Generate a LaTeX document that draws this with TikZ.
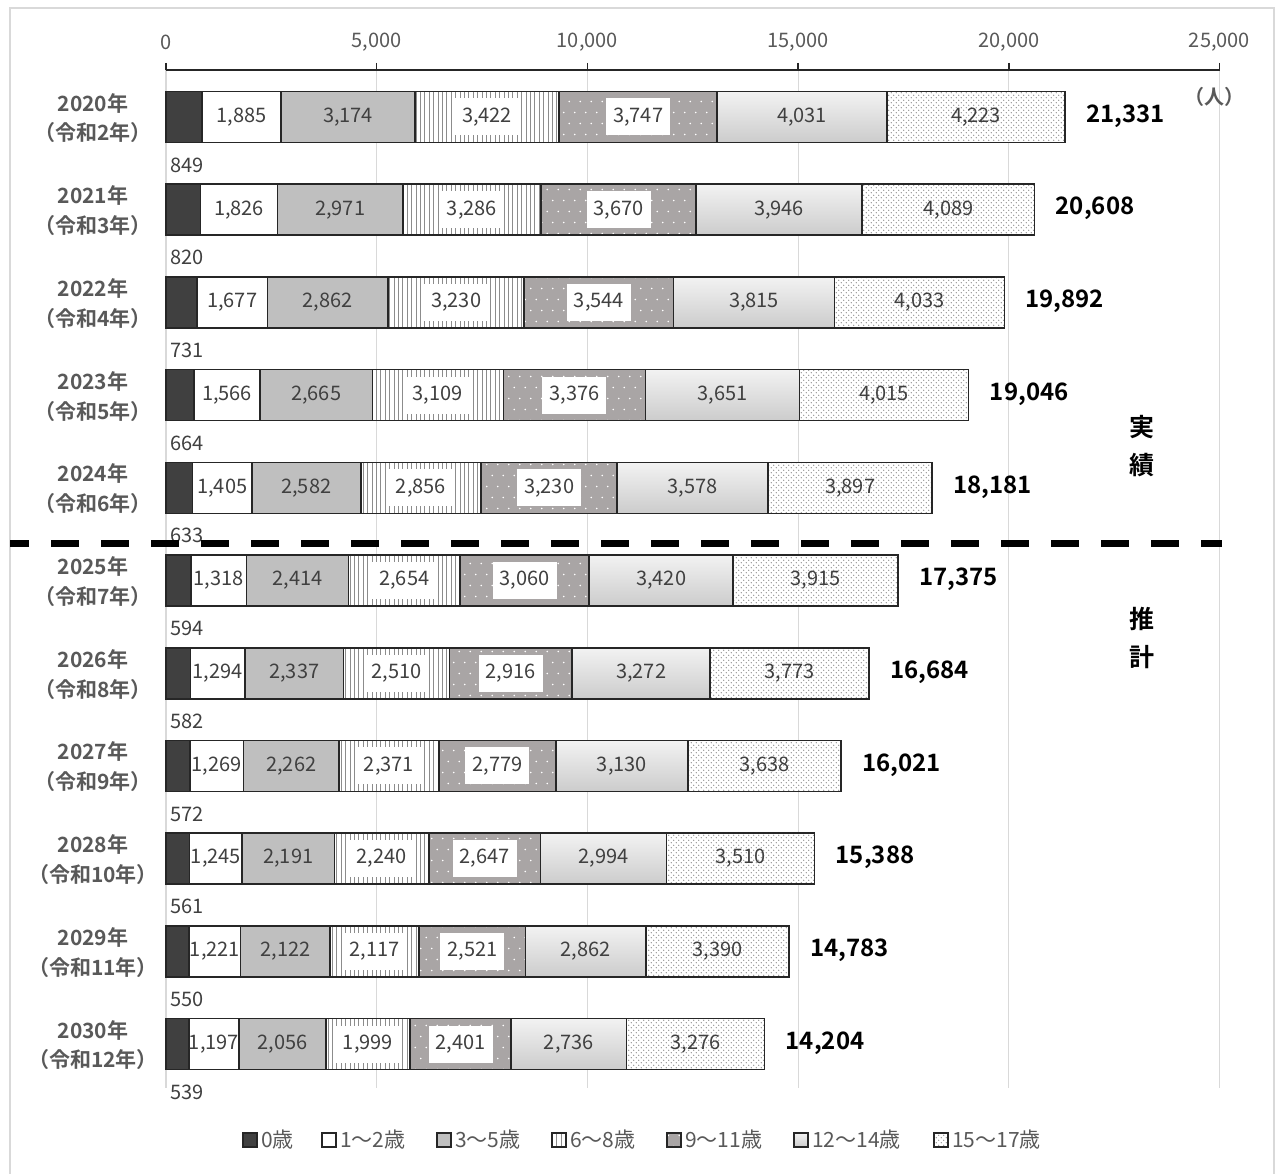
\documentclass[tikz,border=0pt]{standalone}
\usepackage{fontspec}
\setmainfont{Noto Sans CJK JP}[BoldFont={Noto Sans CJK JP Bold}]
\usetikzlibrary{patterns.meta}
\definecolor{czero}{HTML}{404040}
\definecolor{cthree}{HTML}{BFBFBF}
\definecolor{cnine}{HTML}{A9A5A5}
\definecolor{ctext}{HTML}{404040}
\definecolor{caxis}{HTML}{595959}
\definecolor{cgrid}{HTML}{D9D9D9}
\definecolor{cline}{HTML}{262626}
\pgfkeys{/pgf/number format/.cd,fixed,precision=0,1000 sep={,},assume math mode=true}

\tikzdeclarepattern{
  name=vlinespat,
  bottom left={(-0.1pt,-0.1pt)},
  top right={(4.5pt,10.1pt)},
  tile size={(4.4pt,10pt)},
  code={\tikzset{x=1pt,y=1pt}\draw[line width=0.6pt] (2.2,-0.2) -- (2.2,10.2);}
}
\tikzdeclarepattern{
  name=sparsedots,
  bottom left={(-0.1pt,-0.1pt)},
  top right={(11.1pt,22.1pt)},
  tile size={(11pt,22pt)},
  code={\tikzset{x=1pt,y=1pt}\fill (2.75,5.5) circle[radius=0.8pt] (8.25,16.5) circle[radius=0.8pt];}
}
\tikzdeclarepattern{
  name=finedots,
  bottom left={(-0.1pt,-0.1pt)},
  top right={(5.1pt,5.1pt)},
  tile size={(5pt,5pt)},
  code={\tikzset{x=1pt,y=1pt}\fill (1.25,1.25) circle[radius=0.55pt] (3.75,3.75) circle[radius=0.55pt];}
}

\tikzset{
  bg1/.style={fill=czero},
  bg2/.style={fill=white},
  bg3/.style={fill=cthree},
  bg4/.style={fill=white},
  bg5/.style={fill=cnine},
  bg6/.style={top color=white!95!black, bottom color=white!80!black},
  bg7/.style={fill=white},
  pat1/.style={},
  pat2/.style={},
  pat3/.style={},
  pat4/.style={pattern=vlinespat, pattern color=black!45},
  pat5/.style={pattern=sparsedots, pattern color=white},
  pat6/.style={},
  pat7/.style={pattern=finedots, pattern color=black!50},
  segline/.style={draw=cline, line width=1.6pt},
  seglab/.style={text=ctext, font=\fontsize{20}{22}\selectfont, inner sep=0pt},
  boxlab/.style={seglab, fill=white, minimum height=37pt, inner xsep=7pt},
  totlab/.style={text=black, font=\fontsize{24}{26}\selectfont\bfseries, inner sep=0pt},
  yearlab/.style={text=caxis, font=\fontsize{21}{23}\selectfont\bfseries, inner sep=0pt},
  ticklab/.style={text=caxis, font=\fontsize{20}{22}\selectfont, inner sep=0pt},
  leglab/.style={text=caxis, font=\fontsize{21}{23}\selectfont, inner sep=0pt, anchor=west},
  sidelab/.style={text=black, font=\fontsize{25}{27}\selectfont\bfseries, inner sep=0pt},
}

\newcommand\chartrow[4]{%
  \pgfmathsetmacro\cy{117+#1*92.7}
  \xdef\accum{0}%
  \xdef\xpos{166}%
  \foreach \v [count=\j] in {#4}{%
    \pgfmathsetmacro\xa{\xpos}
    \pgfmathsetmacro\xb{\xpos+\v*0.04214}
    \pgfmathsetmacro\xm{(\xa+\xb)/2}
    \xdef\xpos{\xb}%
    \xdef\accum{\the\numexpr\accum+\v\relax}%
    \path[bg\j] (\xa,\cy-25.5) rectangle (\xb,\cy+25.5);
    \path[pat\j] (\xa,\cy-25.5) rectangle (\xb,\cy+25.5);
    \draw[segline] (\xa,\cy-25.5) rectangle (\xb,\cy+25.5);
    \ifnum\j=1
      \node[seglab,anchor=west] (v-#1-\j) at (170,\cy+48) {\pgfmathprintnumber{\v}};
    \else\ifnum\j=4
      \node[boxlab] (v-#1-\j) at (\xm,\cy) {\pgfmathprintnumber{\v}};
    \else\ifnum\j=5
      \node[boxlab] (v-#1-\j) at (\xm,\cy) {\pgfmathprintnumber{\v}};
    \else
      \node[seglab] (v-#1-\j) at (\xm,\cy) {\pgfmathprintnumber{\v}};
    \fi\fi\fi
  }
  \pgfmathsetmacro\xe{\xpos+21}
  \node[totlab,anchor=west] (tot-#1) at (\xe,\cy-1) {\pgfmathprintnumber{\accum}};
  \node[yearlab] (y-#1) at (93,\cy-14) {#2年};
  \node[yearlab] (r-#1) at (93,\cy+16) {（令和#3年）};
}

\begin{document}
\begin{tikzpicture}[x=1pt,y=-1pt]
\useasboundingbox (0,0) rectangle (1275,1174);
\fill[white] (0,0) rectangle (1275,1174);
\draw[cgrid, line width=1.5pt] (10,8) rectangle (1274,1185);
% grid
\foreach \i in {0,...,5}{
  \draw[cgrid, line width=1.2pt] (166+\i*210.7,70) -- (166+\i*210.7,1088);
}
% axis
\draw[cline, line width=1.6pt] (166,70) -- (1219.5,70);
\foreach \i/\t in {0/0,1/{5,000},2/{10,000},3/{15,000},4/{20,000},5/{25,000}}{
  \draw[cline, line width=1.4pt] (166+\i*210.7,63) -- (166+\i*210.7,70);
  \node[ticklab] (tick-\i) at (166+\i*210.7,42) {\t};
}
\node[ticklab, font=\fontsize{20}{22}\selectfont\bfseries] (unit) at (1214,97) {（人）};

\chartrow{0}{2020}{2}{849,1885,3174,3422,3747,4031,4223}
\chartrow{1}{2021}{3}{820,1826,2971,3286,3670,3946,4089}
\chartrow{2}{2022}{4}{731,1677,2862,3230,3544,3815,4033}
\chartrow{3}{2023}{5}{664,1566,2665,3109,3376,3651,4015}
\chartrow{4}{2024}{6}{633,1405,2582,2856,3230,3578,3897}
\chartrow{5}{2025}{7}{594,1318,2414,2654,3060,3420,3915}
\chartrow{6}{2026}{8}{582,1294,2337,2510,2916,3272,3773}
\chartrow{7}{2027}{9}{572,1269,2262,2371,2779,3130,3638}
\chartrow{8}{2028}{10}{561,1245,2191,2240,2647,2994,3510}
\chartrow{9}{2029}{11}{550,1221,2122,2117,2521,2862,3390}
\chartrow{10}{2030}{12}{539,1197,2056,1999,2401,2736,3276}

% divider
\coordinate (dl) at (10,543);
\coordinate (dr) at (1222,543);
\draw[black, line width=7pt, dash pattern=on 28pt off 22pt, dash phase=9pt] (dl) -- (dr);

\node[sidelab] (s1) at (1142,427) {実};
\node[sidelab] (s2) at (1142,465) {績};
\node[sidelab] (s3) at (1142,619) {推};
\node[sidelab] (s4) at (1142,657) {計};

% legend
\foreach \j/\x/\t in {1/243/0歳,2/322/1～2歳,3/437/3～5歳,4/552/6～8歳,5/667/9～11歳,6/794/12～14歳,7/934/15～17歳}{
  \path[bg\j] (\x,1133) rectangle (\x+14,1147);
  \path[pat\j] (\x,1133) rectangle (\x+14,1147);
  \draw[segline, line width=1.3pt] (\x,1133) rectangle (\x+14,1147);
  \node[leglab] (leg-\j) at (\x+18,1140) {\t};
}
\end{tikzpicture}
\end{document}
